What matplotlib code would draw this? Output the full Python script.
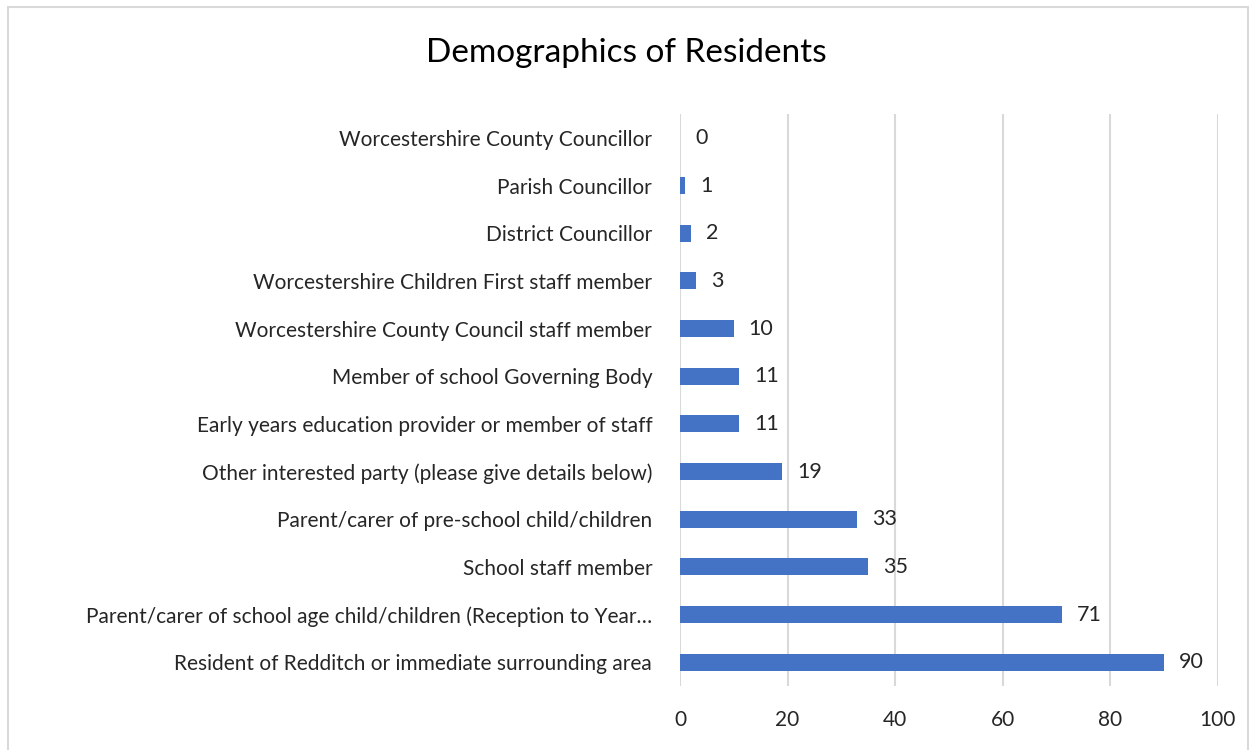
import matplotlib.pyplot as plt
from matplotlib.patches import Rectangle

# categories top to bottom, as in the chart
categories = [
    "Worcestershire County Councillor",
    "Parish Councillor",
    "District Councillor",
    "Worcestershire Children First staff member",
    "Worcestershire County Council staff member",
    "Member of school Governing Body",
    "Early years education provider or member of staff",
    "Other interested party (please give details below)",
    "Parent/carer of pre-school child/children",
    "School staff member",
    "Parent/carer of school age child/children (Reception to Year\u2026",
    "Resident of Redditch or immediate surrounding area",
]
counts = [0, 1, 2, 3, 10, 11, 11, 19, 33, 35, 71, 90]
x_ticks = [0, 20, 40, 60, 80, 100]

plt.rcParams["font.family"] = ["Lato", "DejaVu Sans"]

fig = plt.figure(figsize=(12.52, 7.5), dpi=100)
ax = fig.add_axes([0.5431, 0.0853, 0.4297, 0.7627])

# light border round the chart area
fig.patches.append(Rectangle((8 / 1252, -0.01), 1240 / 1252, 1 - 7 / 750 + 0.01,
                             transform=fig.transFigure, fill=False,
                             edgecolor="#d9d9d9", linewidth=1.5))

pos = list(range(len(categories)))
ax.barh(pos, counts, height=0.36, color="#4472c4", zorder=3)
for p, v in zip(pos, counts):
    ax.annotate(str(v), (v, p), xytext=(15, 0), textcoords="offset pixels",
                ha="left", va="center", fontsize=15.5, color="#262626")

ax.set_xlim(0, 100)
ax.set_ylim(len(categories) - 0.5, -0.5)
ax.set_xticks(x_ticks)
ax.set_yticks(pos)
ax.set_yticklabels(categories, fontsize=15.5)
ax.tick_params(axis="both", length=0, labelsize=15, colors="#262626")
ax.tick_params(axis="y", pad=20)
ax.tick_params(axis="x", pad=17)
ax.grid(axis="x", color="#d9d9d9", linewidth=1.5, zorder=0)
for s in ax.spines.values():
    s.set_visible(False)

fig.text(0.5, 0.93, "Demographics of Residents", ha="center", va="center",
         fontsize=24, color="#000000")

fig.savefig("out.png", dpi=100)
